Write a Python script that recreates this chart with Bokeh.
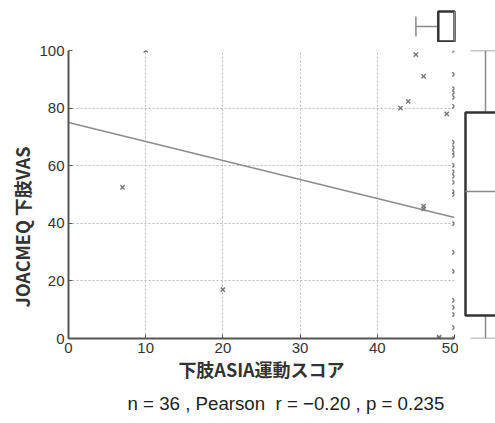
from bokeh.plotting import figure
from bokeh.models import Range1d, Title
from bokeh.layouts import column, row
from bokeh.embed import file_html
from bokeh.resources import INLINE

# ---- data ----
asia_score = [7, 10, 20, 43, 44, 45, 46, 46, 46, 48, 48, 49,
              50, 50, 50, 50, 50, 50, 50, 50, 50, 50, 50, 50,
              50, 50, 50, 50, 50, 50, 50, 50, 50, 50, 50, 50]
vas_score = [52.5, 100, 17, 80, 82.3, 98.6, 91, 46, 45, 0, 0.5, 78,
             91.7, 86.8, 85.4, 83.7, 80.6, 68.1, 66.3, 64.6, 63.5, 60.1,
             57.9, 56.3, 54.2, 51.0, 39.9, 29.9, 23.3, 13.2, 10.8, 8.3,
             3.8, 100, 0, 50]
fit_intercept = 75.0
fit_slope = -0.66
fit_x = [0, 50]

# box plot summaries: [low whisker, Q1, median, Q3, high whisker]
asia_box = [45.0, 47.9, 50.0, 50.0, 50.0]
vas_box = [0.0, 8.0, 51.0, 78.5, 100.0]

x_ticks = [0, 10, 20, 30, 40, 50]
y_ticks = [0, 20, 40, 60, 80, 100]

caption = "n = 36 , Pearson\u00a0\u00a0r = \u22120.20 , p = 0.235"
x_label = "下肢ASIA運動スコア"
y_label = "JOACMEQ 下肢VAS"

FONT = "Liberation Sans"
JFONT = "Noto Sans CJK JP"
BOX_C = "#333333"
WHISK_C = "#8a8a8a"

# ---- main scatter ----
xr = Range1d(0, 50)
yr = Range1d(0, 100)
p = figure(width=458, height=378, x_range=xr, y_range=yr,
           output_backend="svg", toolbar_location=None,
           min_border_left=68, min_border_right=4,
           min_border_top=8, min_border_bottom=82)
p.outline_line_color = None
p.background_fill_color = "white"
p.border_fill_color = "white"

p.xaxis.ticker = x_ticks
p.yaxis.ticker = y_ticks
for ax in (p.xaxis, p.yaxis):
    ax.axis_line_color = "#555555"
    ax.axis_line_width = 2
    ax.major_tick_in = 4
    ax.major_tick_out = 0
    ax.major_tick_line_color = "#555555"
    ax.minor_tick_line_color = None
    ax.major_label_text_font = FONT
    ax.major_label_text_font_size = "15px"
    ax.major_label_text_color = "#333333"
p.xaxis.axis_label = x_label
p.xaxis.axis_label_text_font = JFONT
p.xaxis.axis_label_text_font_style = "bold"
p.xaxis.axis_label_text_color = "#333333"
p.xaxis.axis_label_text_font_size = "18px"
p.xaxis.axis_label_standoff = 0
p.xaxis.major_label_standoff = 4
p.yaxis.major_label_standoff = 4

p.grid.grid_line_color = "#bbbbbb"
p.grid.grid_line_dash = "2 2"
p.grid.grid_line_width = 1

fit_y = [fit_intercept + fit_slope * v for v in fit_x]
p.line(fit_x, fit_y, line_color="#8c8c8c", line_width=1.6)
p.scatter(asia_score, vas_score, marker="x", size=6,
          line_color="#777777", line_width=1.4)

p.add_layout(Title(text=y_label, align="left", text_font=JFONT,
                   text_font_size="18px", text_font_style="bold",
                   text_color="#333333", standoff=4, offset=31), "left")
p.add_layout(Title(text=caption, align="left", text_font=FONT,
                   text_font_size="18.7px", text_font_style="normal",
                   text_color="#222222", standoff=12, offset=59), "below")

# ---- top box plot (ASIA) ----
top = figure(width=458, height=42, x_range=Range1d(0, 50 * 390 / 386),
             y_range=Range1d(-0.533, 0.867),
             output_backend="svg", toolbar_location=None,
             x_axis_location=None, y_axis_location=None,
             min_border_left=68, min_border_right=0,
             min_border_top=0, min_border_bottom=0)
top.outline_line_color = None
top.grid.visible = False
lo, q1, med, q3, hi = asia_box
top.segment(x0=[lo, q3], y0=[0, 0], x1=[q1, hi], y1=[0, 0],
            line_color=WHISK_C, line_width=1.5)
top.segment(x0=[lo, hi], y0=[-0.333, -0.333], x1=[lo, hi], y1=[0.333, 0.333],
            line_color=WHISK_C, line_width=1.5)
top.quad(left=[q1], right=[q3], bottom=[-0.5], top=[0.5],
         fill_color="white", line_color=BOX_C, line_width=2.5)
top.segment(x0=[med], y0=[-0.5], x1=[med], y1=[0.5],
            line_color=WHISK_C, line_width=1.5)

# ---- right box plot (VAS) ----
right = figure(width=37, height=378, x_range=Range1d(-0.675, 0.25),
               y_range=yr, output_backend="svg", toolbar_location=None,
               x_axis_location=None, y_axis_location=None,
               min_border_left=0, min_border_right=0,
               min_border_top=8, min_border_bottom=82)
right.outline_line_color = None
right.grid.visible = False
lo, q1, med, q3, hi = vas_box
right.segment(x0=[0, 0], y0=[lo, q3], x1=[0, 0], y1=[q1, hi],
              line_color=WHISK_C, line_width=1.5)
right.segment(x0=[-0.375, -0.375], y0=[lo, hi], x1=[0.375, 0.375], y1=[lo, hi],
              line_color=WHISK_C, line_width=1.5)
right.quad(left=[-0.5], right=[0.5], bottom=[q1], top=[q3],
           fill_color="white", line_color=BOX_C, line_width=2.5)
right.segment(x0=[-0.5], y0=[med], x1=[0.5], y1=[med],
              line_color=WHISK_C, line_width=1.5)

layout = column(top, row(p, right))
open("out.html", "w").write(file_html(layout, INLINE))
